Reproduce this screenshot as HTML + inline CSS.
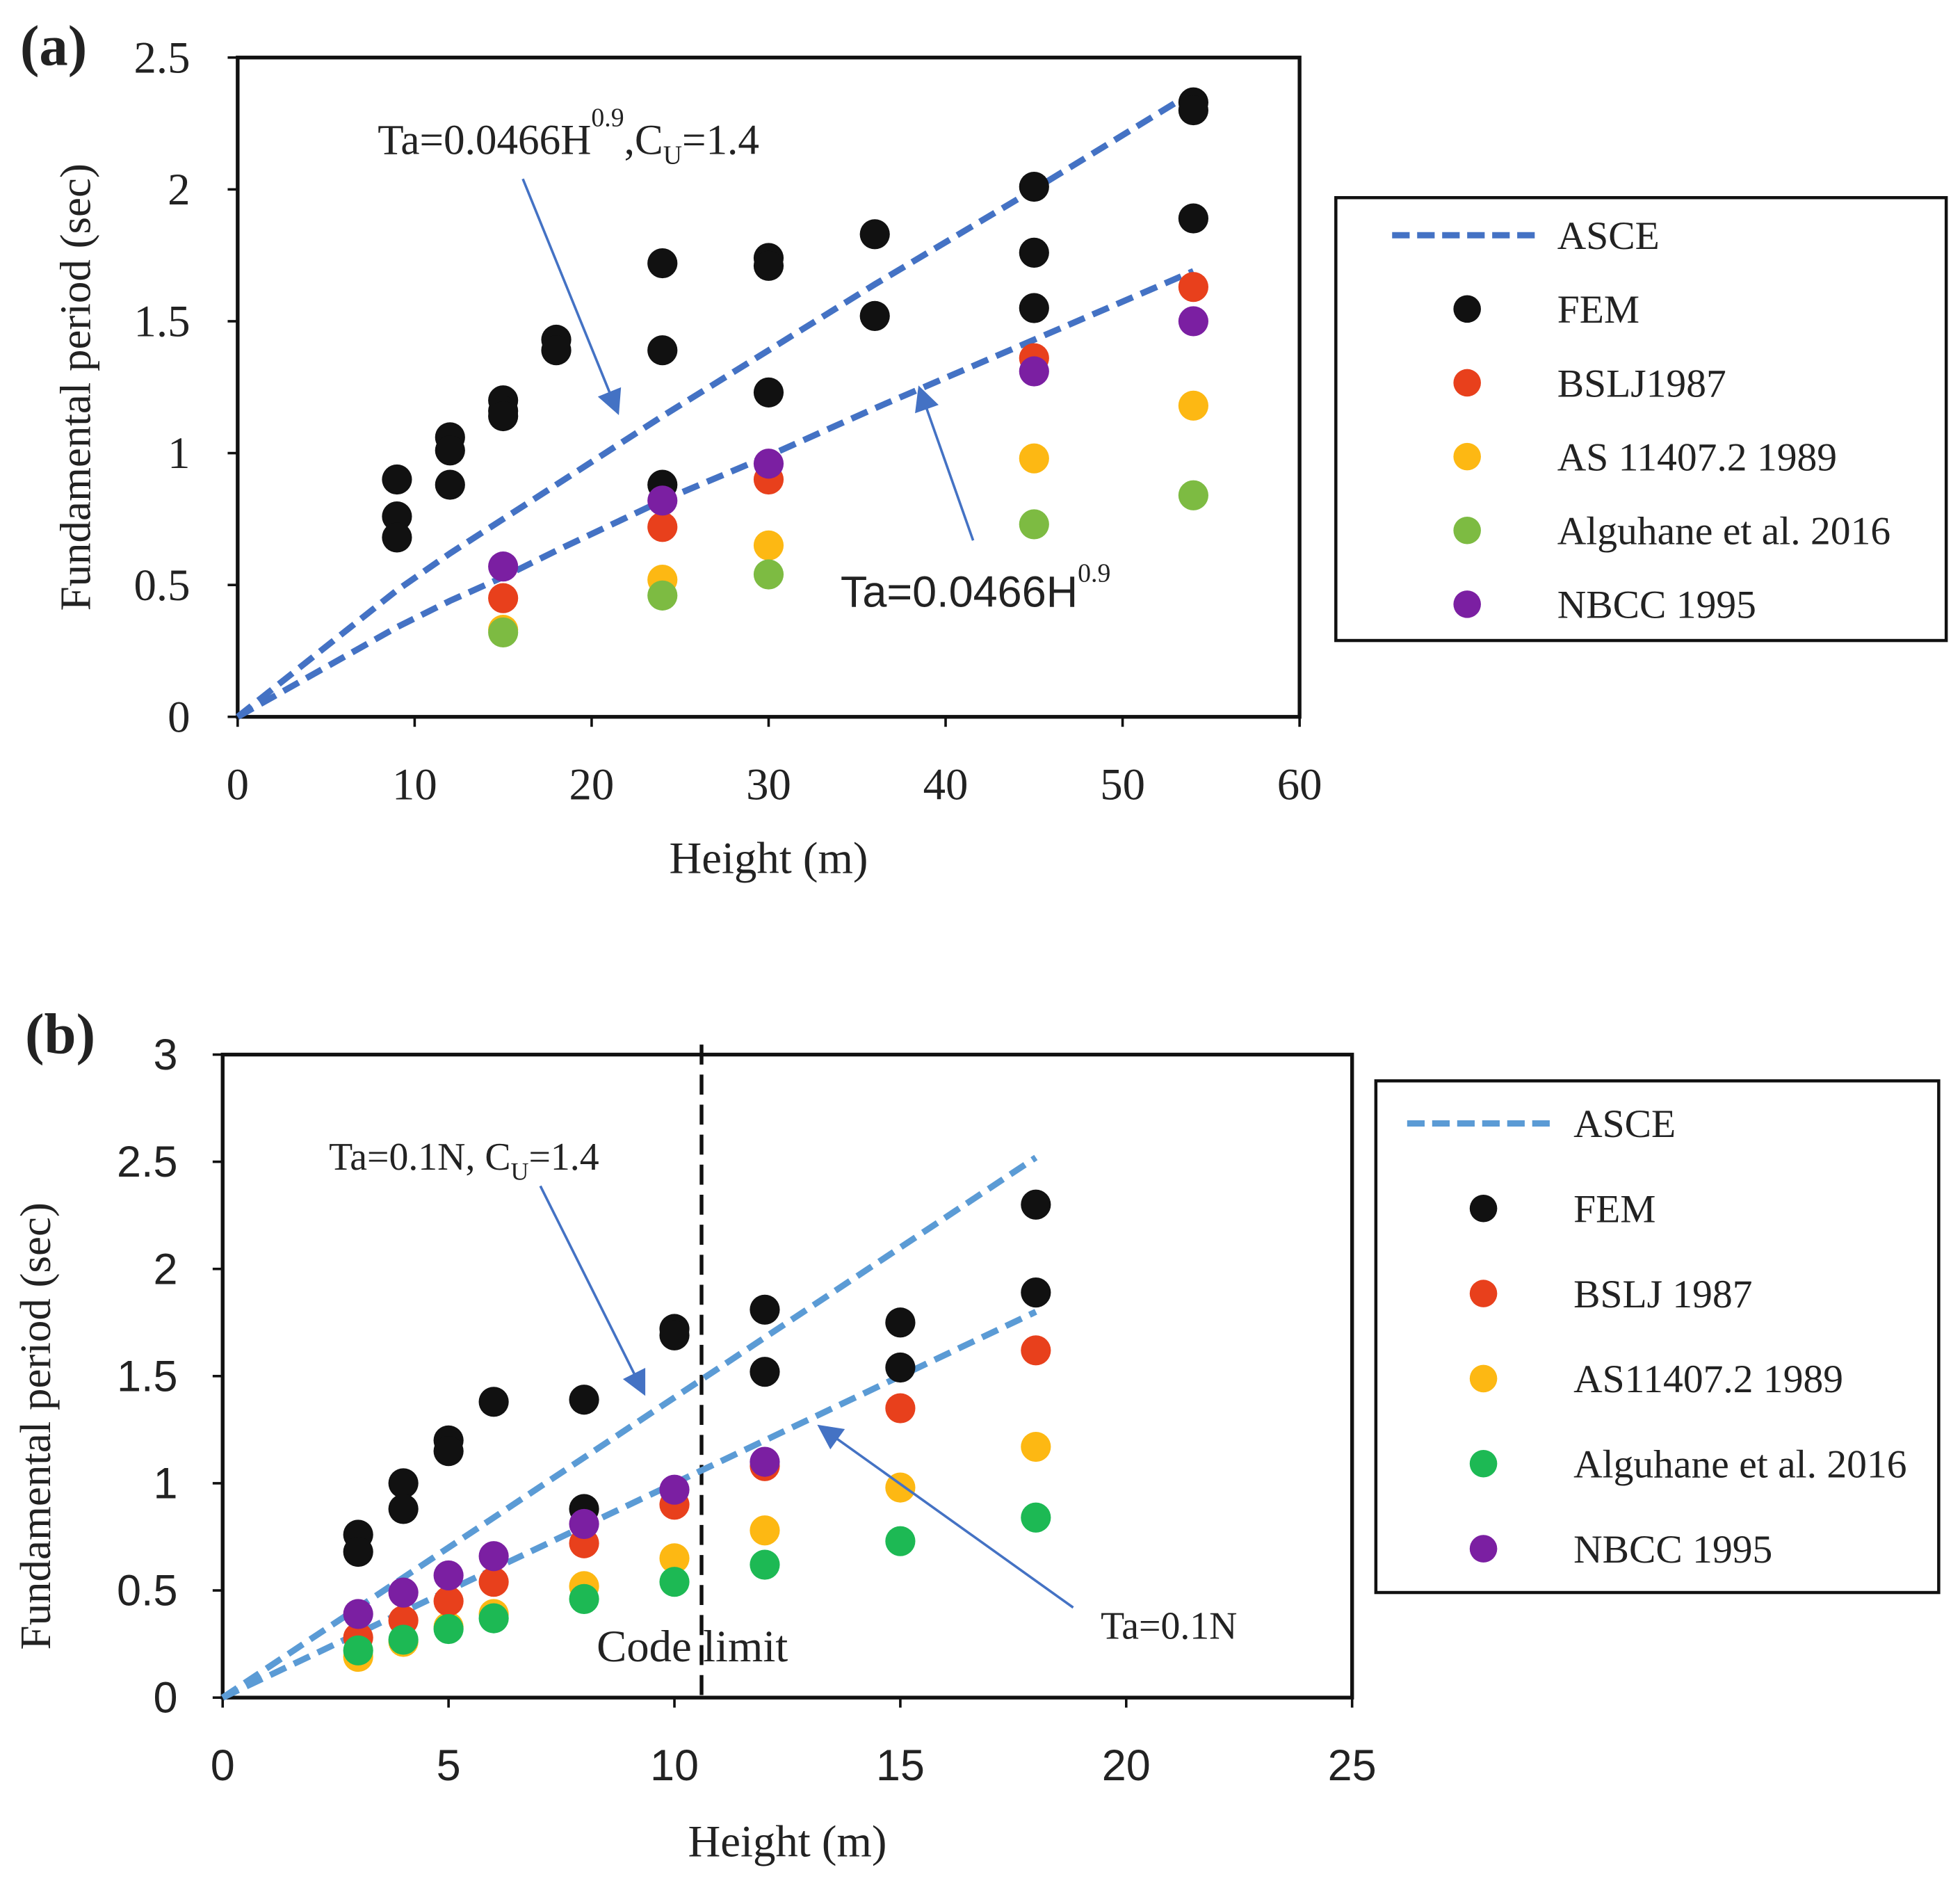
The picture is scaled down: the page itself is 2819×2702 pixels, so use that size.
<!DOCTYPE html>
<html><head><meta charset="utf-8"><style>
html,body{margin:0;padding:0;background:#fff}
svg{display:block}
text{font-family:"Liberation Serif",serif;fill:#222}
.sans{font-family:"Liberation Sans",sans-serif}
</style></head><body>
<svg id="fig" width="2819" height="2702" viewBox="0 0 1567 1502" xmlns="http://www.w3.org/2000/svg">
<defs>
<marker id="arr" viewBox="0 0 10 10" refX="9" refY="5" markerWidth="11" markerHeight="10" orient="auto-start-reverse"><path d="M0,0L10,5L0,10z" fill="#4472C4"/></marker>
</defs>
<g id="chartA"></g>
<g id="chartB"></g>
</svg>
<script>
// ---------- Chart (a) data ----------
const aFemX=[9,9,9,12,12,12,15,15,15,18,18,24,24,24,30,30,30,36,36,45,45,45,54,54,54];
const aFemY=[0.90,0.76,0.68,1.06,1.01,0.88,1.20,1.16,1.14,1.43,1.39,1.72,1.39,0.88,1.74,1.71,1.23,1.83,1.52,2.01,1.76,1.55,2.33,2.30,1.89];
const aCodeX=[15,24,30,45,54];
const aBslj=[0.45,0.72,0.90,1.36,1.63];
const aAs=[0.33,0.52,0.65,0.98,1.18];
const aAlg=[0.32,0.46,0.54,0.73,0.84];
const aNbcc=[0.57,0.82,0.96,1.31,1.50];
const aLineX=[0,9,12,15,18,24,30,36,45,54];
const aAsceLow=[0,0.34,0.44,0.53,0.63,0.82,0.99,1.17,1.43,1.69];
const aAsceHigh=[0,0.48,0.62,0.75,0.88,1.14,1.39,1.64,2.00,2.37];
const aXTicks=[0,10,20,30,40,50,60];
const aYTicks=[0,0.5,1,1.5,2,2.5];
const aYLabels=["0","0.5","1","1.5","2","2.5"];
// ---------- Chart (b) data ----------
const bFemX=[3,3,4,4,5,5,6,8,8,10,10,12,12,15,15,18,18];
const bFemY=[0.76,0.68,1.00,0.88,1.20,1.15,1.38,1.39,0.88,1.72,1.69,1.81,1.52,1.75,1.54,2.30,1.89];
const bCodeX=[3,4,5,6,8,10,12,15,18];
const bBslj=[0.28,0.36,0.45,0.54,0.72,0.90,1.08,1.35,1.62];
const bAs=[0.19,0.26,0.33,0.39,0.52,0.65,0.78,0.98,1.17];
const bAlg=[0.22,0.27,0.32,0.37,0.46,0.54,0.62,0.73,0.84];
const bNbccX=[3,4,5,6,8,10,12];
const bNbcc=[0.39,0.49,0.57,0.66,0.81,0.97,1.10];
const bLineX=[0,18];
const bAsceLow=[0,1.8];
const bAsceHigh=[0,2.52];
const bXTicks=[0,5,10,15,20,25];
const bYTicks=[0,0.5,1,1.5,2,2.5,3];
const bYLabels=["0","0.5","1","1.5","2","2.5","3"];
const bCodeLimit=10.6;

const NS="http://www.w3.org/2000/svg";
function mk(parent,tag,attrs,txt){const e=document.createElementNS(NS,tag);for(const k in attrs)e.setAttribute(k,attrs[k]);if(txt!==undefined)e.textContent=txt;parent.appendChild(e);return e;}

const C={fem:"#111111",bslj:"#E8401C",as:"#FDB813",algA:"#7DBB42",algB:"#1DB954",nbcc:"#7B1FA2"};

function drawChart(g,cfg){
  const X=v=>cfg.x0+(v-cfg.xmin)*(cfg.x1-cfg.x0)/(cfg.xmax-cfg.xmin);
  const Y=v=>cfg.y0-(v-cfg.ymin)*(cfg.y0-cfg.y1)/(cfg.ymax-cfg.ymin);
  const frame=mk(g,'rect',{x:cfg.x0,y:cfg.y1,width:cfg.x1-cfg.x0,height:cfg.y0-cfg.y1,fill:'none',stroke:'#111','stroke-width':3});
  
  
  cfg.xticks.forEach(t=>{
    const l=mk(g,'line',{x1:X(t),x2:X(t),y1:cfg.y0,y2:cfg.y0+8,stroke:'#111','stroke-width':2});
    
    
    const tx=mk(g,'text',{x:X(t),y:cfg.y0+cfg.xlabOff,'text-anchor':'middle','font-size':cfg.tickSize,class:cfg.tickClass},String(t));
    
    
  });
  cfg.yticks.forEach((t,i)=>{
    const l=mk(g,'line',{x1:cfg.x0-8,x2:cfg.x0,y1:Y(t),y2:Y(t),stroke:'#111','stroke-width':2});
    
    
    const tx=mk(g,'text',{x:cfg.x0-cfg.ylabOff,y:Y(t)+12,'text-anchor':'end','font-size':cfg.tickSize,class:cfg.tickClass},cfg.ylabels[i]);
    
    
  });
  const xt=mk(g,'text',{x:(cfg.x0+cfg.x1)/2,y:cfg.xTitleY,'text-anchor':'middle','font-size':36},'Height (m)');
  
  
  const yt=mk(g,'text',{x:0,y:0,'text-anchor':'middle','font-size':35,transform:`translate(${cfg.yTitleX},${(cfg.y0+cfg.y1)/2-cfg.yTitleShift}) rotate(-90)`},'Fundamental period (sec)');
  
  
  const pl=mk(g,'text',{x:cfg.panelX,y:cfg.panelY,'font-size':46,'font-weight':'bold'},cfg.panel);
  
  
  if(cfg.codeLimit!==undefined){
    const cl=mk(g,'line',{x1:X(cfg.codeLimit),x2:X(cfg.codeLimit),y1:cfg.y1-8,y2:cfg.y0,stroke:'#111','stroke-width':3,'stroke-dasharray':'16,8'});
    
    
  }
  [cfg.asceLow,cfg.asceHigh].forEach((arr,k)=>{
    const pts=cfg.lineX.map((x,i)=>X(x)+','+Y(arr[i])).join(' ');
    const p=mk(g,'polyline',{points:pts,fill:'none',stroke:cfg.lineColor,'stroke-width':5,'stroke-dasharray':'14,7'});
    
    
  });
  const r=12;
  function dots(xs,ys,col,name){
    xs.forEach((x,i)=>{
      const c=mk(g,'circle',{cx:X(x),cy:Y(ys[i]),r:r,fill:col});
      
      
    });
  }
  dots(cfg.femX,cfg.femY,C.fem,'fem-point');
  dots(cfg.codeX,cfg.as,C.as,'as-point');
  dots(cfg.codeX,cfg.bslj,C.bslj,'bslj-point');
  dots(cfg.codeX,cfg.alg,cfg.algColor,'alguhane-point');
  dots(cfg.nbccX,cfg.nbcc,C.nbcc,'nbcc-point');
  cfg.annots.forEach(a=>{
    const t=mk(g,'text',{x:a.tx,y:a.ty,'font-size':a.fs,class:a.cls||''});
    t.innerHTML=a.html;
    
    
    const l=mk(g,'line',{x1:a.ax1,y1:a.ay1,x2:a.ax2,y2:a.ay2,stroke:'#4472C4','stroke-width':2,'marker-end':'url(#arr)'});
    
    
  });
  const L=cfg.legend;
  const box=mk(g,'rect',{x:L.x,y:L.y,width:L.w,height:L.h,fill:'#fff',stroke:'#111','stroke-width':2.5});
  
  
  L.items.forEach((it,i)=>{
    const yy=L.firstY+i*L.step;
    if(i===0){
      const ll=mk(g,'line',{x1:L.lineX1,x2:L.lineX2,y1:yy,y2:yy,stroke:cfg.lineColor,'stroke-width':5,'stroke-dasharray':'14,6'});
      
      
    } else {
      const c=mk(g,'circle',{cx:L.mx,cy:yy,r:11,fill:it.c});
      
      
    }
    const t=mk(g,'text',{x:L.tx,y:yy+11,'font-size':32},it.t);
    
    
  });
}

drawChart(document.getElementById('chartA'),{
  x0:190,x1:1039,y0:573,y1:46,xmin:0,xmax:60,ymin:0,ymax:2.5,
  xticks:aXTicks,yticks:aYTicks,ylabels:aYLabels,tickSize:36,tickClass:'',xlabOff:66,ylabOff:38,
  xTitleY:698,yTitleX:72,yTitleShift:0,panel:'(a)',panelX:16,panelY:52,
  lineColor:'#4472C4',lineX:aLineX,asceLow:aAsceLow,asceHigh:aAsceHigh,
  femX:aFemX,femY:aFemY,codeX:aCodeX,bslj:aBslj,as:aAs,alg:aAlg,algColor:C.algA,nbccX:aCodeX,nbcc:aNbcc,
  annots:[
    {tx:302,ty:123,fs:34,html:'Ta=0.0466H<tspan dy="-22" font-size="21">0.9</tspan><tspan dy="22">,C</tspan><tspan dy="8" font-size="21">U</tspan><tspan dy="-8">=1.4</tspan>',ax1:418,ay1:143,ax2:494,ay2:330},
    {tx:672,ty:485,fs:35,cls:'sans',html:'Ta=0.0466H<tspan dy="-20" font-size="21" font-family="Liberation Serif">0.9</tspan>',ax1:778,ay1:432,ax2:735,ay2:310}
  ],
  legend:{x:1068,y:158,w:488,h:354,firstY:188,step:59,lineX1:1113,lineX2:1233,mx:1173,tx:1245,
    items:[{t:'ASCE'},{t:'FEM',c:C.fem},{t:'BSLJ1987',c:C.bslj},{t:'AS 11407.2 1989',c:C.as},{t:'Alguhane et al. 2016',c:C.algA},{t:'NBCC 1995',c:C.nbcc}]}
});

drawChart(document.getElementById('chartB'),{
  x0:178,x1:1081,y0:1357,y1:843,xmin:0,xmax:25,ymin:0,ymax:3,codeLimit:bCodeLimit,
  xticks:bXTicks,yticks:bYTicks,ylabels:bYLabels,tickSize:35,tickClass:'sans',xlabOff:66,ylabOff:36,
  xTitleY:1484,yTitleX:40,yTitleShift:-40,panel:'(b)',panelX:20,panelY:842,
  lineColor:'#5B9BD5',lineX:bLineX,asceLow:bAsceLow,asceHigh:bAsceHigh,
  femX:bFemX,femY:bFemY,codeX:bCodeX,bslj:bBslj,as:bAs,alg:bAlg,algColor:C.algB,nbccX:bNbccX,nbcc:bNbcc,
  annots:[
    {tx:263,ty:935,fs:31,html:'Ta=0.1N, C<tspan dy="8" font-size="20">U</tspan><tspan dy="-8">=1.4</tspan>',ax1:432,ay1:948,ax2:515,ay2:1114},
    {tx:880,ty:1310,fs:31,html:'Ta=0.1N',ax1:858,ay1:1285,ax2:655,ay2:1140}
  ],
  legend:{x:1100,y:864,w:450,h:409,firstY:898,step:68,lineX1:1125,lineX2:1245,mx:1186,tx:1258,
    items:[{t:'ASCE'},{t:'FEM',c:C.fem},{t:'BSLJ 1987',c:C.bslj},{t:'AS11407.2 1989',c:C.as},{t:'Alguhane et al. 2016',c:C.algB},{t:'NBCC 1995',c:C.nbcc}]}
});
const cl=mk(document.getElementById('chartB'),'text',{x:477,y:1328,'font-size':36},'Code limit');


</script>
</body></html>
